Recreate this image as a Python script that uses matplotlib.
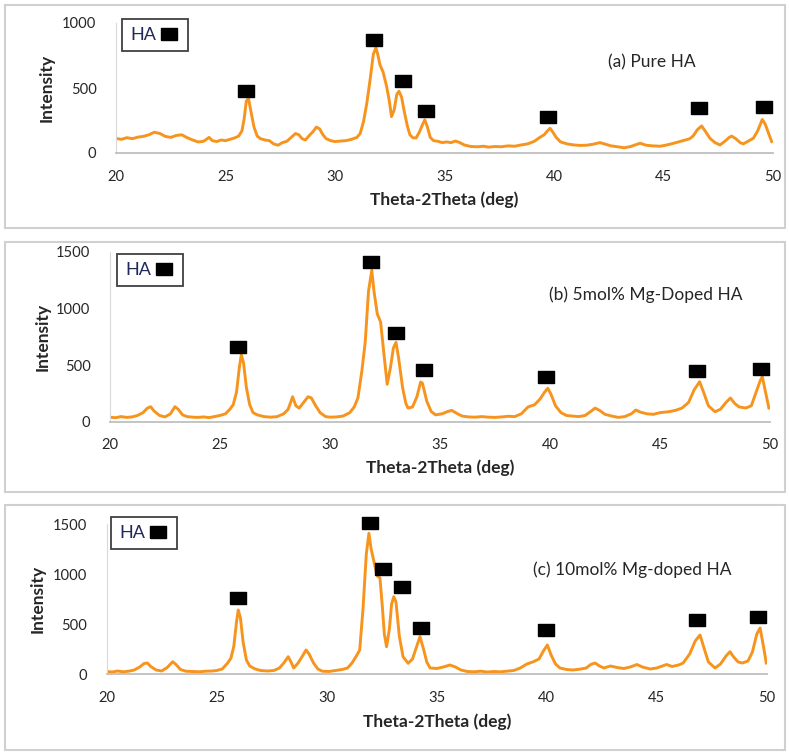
import matplotlib.pyplot as plt
from matplotlib.patches import Rectangle
from matplotlib.lines import Line2D

plt.rcParams['font.family'] = ['Lato', 'DejaVu Sans']

# ---- (a) pure HA ----
theta_a = [20.0, 20.25, 20.5, 20.75, 21.0, 21.25, 21.5, 21.75, 22.0, 22.25, 22.5, 22.75, 23.0, 23.25, 23.5, 23.75,
           24.0, 24.25, 24.4, 24.6, 24.8, 25.0, 25.2, 25.4, 25.6, 25.75, 25.85, 25.95, 26.05, 26.15, 26.3, 26.45,
           26.6, 26.8, 27.0, 27.2, 27.4, 27.6, 27.8, 28.0, 28.2, 28.35, 28.5, 28.65, 28.8, 29.0, 29.15, 29.3,
           29.45, 29.6, 29.8, 30.0, 30.25, 30.5, 30.75, 31.0, 31.15, 31.3, 31.45, 31.6, 31.75, 31.87, 31.95, 32.05,
           32.2, 32.36, 32.48, 32.58, 32.7, 32.82, 32.92, 33.04, 33.15, 33.3, 33.42, 33.55, 33.7, 33.85, 34.0, 34.1,
           34.22, 34.35, 34.5, 34.7, 34.9, 35.1, 35.3, 35.5, 35.7, 35.9, 36.2, 36.5, 36.8, 37.0, 37.3, 37.6,
           37.9, 38.2, 38.5, 38.8, 39.1, 39.35, 39.55, 39.7, 39.82, 39.95, 40.1, 40.3, 40.6, 40.9, 41.2, 41.5,
           41.8, 42.1, 42.3, 42.6, 42.9, 43.2, 43.5, 43.7, 43.93, 44.2, 44.5, 44.84, 45.1, 45.4, 45.75, 46.0,
           46.2, 46.35, 46.55, 46.74, 46.9, 47.12, 47.35, 47.58, 47.8, 48.0, 48.11, 48.3, 48.5, 48.64, 48.85, 49.1,
           49.3, 49.51, 49.65, 49.8, 49.94]
int_a = [112, 105, 118, 110, 122, 128, 140, 160, 150, 128, 120, 135, 140, 118, 100, 85,
         90, 120, 95, 88, 100, 95, 105, 115, 130, 170, 260, 400, 420, 330, 200, 130,
         110, 100, 95, 70, 60, 80, 90, 120, 150, 140, 110, 100, 130, 165, 200, 185,
         140, 110, 95, 88, 92, 95, 105, 120, 150, 240, 380, 560, 760, 810, 760, 680,
         620, 510, 400, 280, 330, 450, 475, 430, 330, 210, 140, 118, 115, 160, 220, 255,
         200, 120, 95, 90, 80, 85, 80, 92, 80, 62, 50, 48, 52, 45, 50, 48,
         55, 52, 62, 70, 90, 120, 140, 170, 190, 160, 120, 85, 70, 62, 58, 60,
         68, 80, 70, 55, 48, 40, 50, 62, 75, 60, 55, 52, 60, 72, 88, 100,
         110, 130, 180, 208, 170, 113, 80, 62, 90, 120, 130, 110, 80, 70, 90, 113,
         170, 258, 220, 150, 88]

# ---- (b) 5 mol% Mg ----
theta_b = [20.0, 20.25, 20.5, 20.75, 21.0, 21.25, 21.5, 21.7, 21.85, 22.0, 22.25, 22.5, 22.75, 22.95, 23.1, 23.3,
           23.5, 23.75, 24.0, 24.25, 24.5, 24.75, 25.0, 25.25, 25.45, 25.6, 25.75, 25.88, 25.97, 26.07, 26.2, 26.35,
           26.5, 26.7, 27.0, 27.3, 27.6, 27.9, 28.1, 28.3, 28.45, 28.6, 28.8, 29.0, 29.15, 29.35, 29.55, 29.8,
           30.0, 30.3, 30.6, 30.9, 31.1, 31.27, 31.45, 31.6, 31.75, 31.9, 32.0, 32.15, 32.3, 32.45, 32.6, 32.75,
           32.88, 33.0, 33.12, 33.3, 33.45, 33.55, 33.75, 33.95, 34.12, 34.2, 34.4, 34.6, 34.8, 35.1, 35.35, 35.53,
           35.75, 36.0, 36.3, 36.6, 36.9, 37.2, 37.5, 37.8, 38.1, 38.4, 38.7, 39.0, 39.3, 39.55, 39.75, 39.9,
           40.05, 40.25, 40.5, 40.75, 41.0, 41.3, 41.6, 41.85, 42.05, 42.25, 42.5, 42.8, 43.1, 43.4, 43.7, 43.9,
           44.1, 44.4, 44.7, 45.0, 45.4, 45.7, 46.0, 46.3, 46.55, 46.8, 47.0, 47.2, 47.5, 47.75, 48.0, 48.2,
           48.4, 48.6, 48.9, 49.15, 49.35, 49.55, 49.65, 49.8, 49.95]
int_b = [40, 35, 45, 38, 42, 55, 80, 120, 132, 95, 55, 42, 70, 132, 110, 60,
         45, 40, 38, 42, 36, 45, 55, 70, 110, 150, 260, 480, 590, 520, 300, 150,
         80, 60, 45, 40, 45, 70, 110, 220, 140, 120, 170, 220, 210, 140, 80, 45,
         40, 42, 50, 80, 130, 210, 450, 700, 1150, 1337, 1150, 950, 880, 600, 330, 480,
         650, 700, 560, 300, 160, 120, 130, 220, 350, 340, 180, 90, 60, 70, 90, 100,
         75, 50, 42, 40, 45, 40, 38, 42, 48, 45, 70, 130, 150, 200, 260, 295,
         240, 140, 80, 55, 50, 45, 55, 90, 120, 100, 65, 50, 38, 45, 70, 103,
         85, 70, 65, 80, 88, 100, 120, 170, 280, 353, 250, 140, 88, 110, 170, 209,
         160, 130, 121, 140, 250, 360, 397, 260, 120]

# ---- (c) 10 mol% Mg ----
theta_c = [20.0, 20.25, 20.5, 20.75, 21.0, 21.25, 21.5, 21.7, 21.85, 22.0, 22.25, 22.5, 22.75, 23.0, 23.15, 23.35,
           23.6, 23.9, 24.2, 24.5, 24.8, 25.0, 25.25, 25.5, 25.65, 25.78, 25.9, 25.98, 26.08, 26.2, 26.35, 26.5,
           26.75, 27.0, 27.3, 27.6, 27.85, 28.05, 28.25, 28.4, 28.5, 28.7, 28.9, 29.06, 29.2, 29.4, 29.6, 29.8,
           30.1, 30.4, 30.7, 30.95, 31.15, 31.35, 31.5, 31.65, 31.8, 31.92, 32.02, 32.2, 32.3, 32.42, 32.52, 32.62,
           32.72, 32.85, 32.95, 33.05, 33.15, 33.3, 33.47, 33.7, 33.9, 34.05, 34.24, 34.4, 34.55, 34.7, 35.0, 35.3,
           35.6, 35.85, 36.1, 36.4, 36.7, 37.0, 37.3, 37.6, 37.9, 38.2, 38.5, 38.8, 39.1, 39.4, 39.65, 39.85,
           40.03, 40.2, 40.4, 40.6, 40.9, 41.2, 41.5, 41.8, 42.0, 42.2, 42.4, 42.6, 42.9, 43.2, 43.5, 43.8,
           44.1, 44.35, 44.7, 45.0, 45.25, 45.45, 45.7, 46.0, 46.2, 46.5, 46.75, 46.97, 47.15, 47.35, 47.65, 47.9,
           48.15, 48.33, 48.5, 48.7, 48.9, 49.15, 49.35, 49.55, 49.7, 49.85, 49.98]
int_c = [25, 20, 30, 22, 28, 40, 70, 105, 110, 75, 40, 30, 65, 123, 95, 45,
         28, 25, 22, 28, 30, 35, 50, 110, 160, 280, 520, 640, 560, 320, 140, 80,
         50, 35, 30, 35, 60, 110, 173, 110, 60, 110, 180, 240, 200, 110, 50, 28,
         25, 35, 45, 60, 110, 180, 240, 650, 1200, 1407, 1250, 1073, 980, 960, 700, 400,
         273, 450, 700, 773, 720, 380, 173, 107, 150, 250, 373, 250, 120, 60, 55, 70,
         90, 70, 40, 25, 22, 28, 20, 25, 22, 28, 35, 60, 100, 123, 150, 230,
         290, 190, 100, 60, 45, 40, 48, 60, 95, 110, 80, 60, 80, 65, 55, 70,
         95, 70, 50, 60, 80, 95, 75, 90, 110, 200, 330, 390, 260, 120, 60, 100,
         180, 223, 170, 120, 110, 130, 220, 400, 460, 280, 110]

# HA peak markers (position, marker height)
mark_x_a = [25.94, 31.78, 33.1, 34.16, 39.73, 46.6, 49.6]
mark_y_a = [477, 869, 554, 323, 277, 346, 354]
mark_x_b = [25.8, 31.86, 33.0, 34.27, 39.8, 46.7, 49.6]
mark_y_b = [656, 1409, 780, 456, 394, 447, 465]
mark_x_c = [25.99, 31.97, 32.57, 33.4, 34.29, 39.97, 46.85, 49.6]
mark_y_c = [763, 1507, 1047, 867, 463, 440, 540, 573]

titles = ['(a) Pure HA', '(b) 5mol% Mg-Doped HA', '(c) 10mol% Mg-doped HA']
ymax = [1000, 1500, 1500]
yticks = [[0, 500, 1000], [0, 500, 1000, 1500], [0, 500, 1000, 1500]]
xticks = [20, 25, 30, 35, 40, 45, 50]

W, H = 789, 753
fig = plt.figure(figsize=(W / 100, H / 100), dpi=100)

# panel frames (pixels: x0, y0, x1, y1)
frames = [(5, 5, 785, 228), (5, 242, 785, 492), (5, 505, 785, 750)]
for x0, y0, x1, y1 in frames:
    fig.patches.append(Rectangle((x0 / W, 1 - y1 / H), (x1 - x0) / W, (y1 - y0) / H,
                                 transform=fig.transFigure, fill=False,
                                 edgecolor='#d0d0d0', lw=1.5))

# axes boxes in pixels: left, right, top, bottom
boxes = [(116, 773, 23, 153), (110, 770, 251.7, 421.7), (106.7, 766.7, 524, 674)]
# text positions in pixels
title_pos = [(652, 62), (646, 295), (632, 570)]
xlab_y = [200, 468, 722]
ylab_x = [47, 43, 38]
legend_box = [(122, 19), (117, 254), (111, 517)]

data = [(theta_a, int_a, mark_x_a, mark_y_a),
        (theta_b, int_b, mark_x_b, mark_y_b),
        (theta_c, int_c, mark_x_c, mark_y_c)]

rect_marker = [(-1, -0.75), (1, -0.75), (1, 0.75), (-1, 0.75), (-1, -0.75)]
orange = '#F7941D'
txt = '#262626'

for i, (tx, iy, mx, my) in enumerate(data):
    l, r, t, b = boxes[i]
    ax = fig.add_axes([l / W, 1 - b / H, (r - l) / W, (b - t) / H])
    ax.plot(tx, iy, color=orange, lw=2.1, solid_joinstyle='round')
    ax.plot(mx, my, ls='none', marker=rect_marker, ms=11.5, color='black', clip_on=False)
    ax.set_xlim(20, 50)
    ax.set_ylim(0, ymax[i])
    ax.set_xticks(xticks)
    ax.set_yticks(yticks[i])
    ax.tick_params(length=0, labelsize=10.6, labelcolor=txt, pad=12)
    ax.tick_params(axis='y', pad=14)
    for s in ['top', 'right']:
        ax.spines[s].set_visible(False)
    ax.spines['left'].set_color('#d9d9d9')
    ax.spines['bottom'].set_color('#bfbfbf')
    ax.spines['bottom'].set_linewidth(1.3)
    ax.set_facecolor('none')

    fig.text(title_pos[i][0] / W, 1 - title_pos[i][1] / H, titles[i],
             ha='center', va='center', fontsize=12.5, color=txt)
    fig.text(((l + r) / 2) / W, 1 - xlab_y[i] / H, 'Theta-2Theta (deg)', ha='center', va='center',
             fontsize=12.5, fontweight='bold', color=txt)
    fig.text(ylab_x[i] / W, 1 - ((t + b) / 2) / H, 'Intensity', ha='center', va='center',
             rotation=90, fontsize=12.5, fontweight='bold', color=txt)

    handle = Line2D([], [], ls='none', marker=rect_marker, ms=11.5, color='black')
    lx, ly = legend_box[i]
    leg = ax.legend([handle], ['HA'], markerfirst=False, loc='upper left',
                    bbox_to_anchor=((lx - l) / (r - l), (b - ly) / (b - t)),
                    borderaxespad=0, fancybox=False, framealpha=1, fontsize=13,
                    handletextpad=0.1, handlelength=1.2, borderpad=0.45)
    leg.get_frame().set_edgecolor('#404040')
    leg.get_frame().set_linewidth(1.3)
    for tt in leg.get_texts():
        tt.set_color('#1f2a5a')

fig.savefig('out.png', dpi=100)
